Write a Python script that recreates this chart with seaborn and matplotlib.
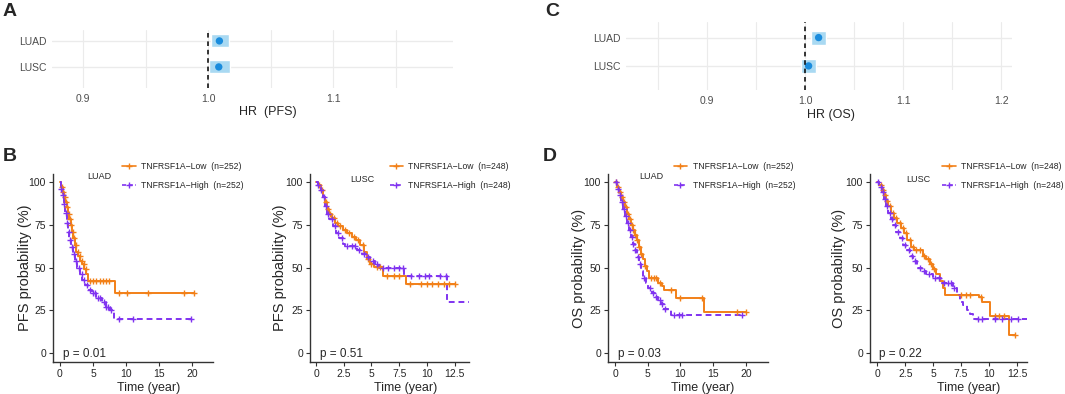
import numpy as np
import pandas as pd
import matplotlib
matplotlib.use("Agg")
import matplotlib.pyplot as plt
from matplotlib.lines import Line2D
import seaborn as sns

# ---------------- data ----------------
cancers = ["LUAD", "LUSC"]
hr_pfs = [1.009, 1.0085]
hr_pfs_lo = [1.002, 1.0005]
hr_pfs_hi = [1.017, 1.0175]
hr_os = [1.0136, 1.0034]
hr_os_lo = [1.006, 0.9956]
hr_os_hi = [1.021, 1.011]

group_labels = ["TNFRSF1A\u2212Low", "TNFRSF1A\u2212High"]

# B: LUAD PFS
b1_low_t = [0, 0.2, 0.4, 0.6, 0.8, 1.0, 1.2, 1.4, 1.6, 1.8, 2.0, 2.2, 2.5, 2.8, 3.1, 3.4, 3.7, 4.0, 4.25, 8.35]
b1_low_s = [100, 97, 94, 91, 88, 85, 81, 78, 75, 71, 67, 63, 59, 57, 54, 52, 49, 46, 42, 35]
b1_low_end = 20.3
b1_low_cens = [0.3, 0.5, 0.7, 0.9, 1.1, 1.3, 1.5, 1.7, 1.9, 2.1, 2.4, 2.7, 3.0, 3.3, 3.6, 3.9, 4.6, 5.0, 5.5, 6.0, 6.5, 7.0, 7.5, 9.0, 10.2, 13.3, 18.8, 20.3]
b1_high_t = [0, 0.2, 0.4, 0.6, 0.8, 1.0, 1.2, 1.4, 1.6, 1.9, 2.2, 2.6, 3.0, 3.4, 3.8, 4.3, 4.8, 5.5, 6.3, 7.0, 7.6, 8.2]
b1_high_s = [100, 96, 92, 87, 82, 76, 71, 66, 62, 58, 54, 50, 46, 43, 40, 37, 35, 32, 30, 27, 25, 20]
b1_high_end = 19.8
b1_high_cens = [0.2, 0.4, 0.6, 0.9, 1.1, 1.3, 1.5, 1.8, 2.1, 2.5, 2.9, 3.3, 3.7, 4.1, 4.5, 5.0, 5.3, 5.8, 6.1, 6.6, 7.0, 7.3, 7.8, 9.0, 11.0, 19.8]

# B: LUSC PFS
b2_low_t = [0, 0.2, 0.4, 0.6, 0.8, 1.0, 1.2, 1.4, 1.7, 2.0, 2.4, 2.8, 3.2, 3.6, 4.0, 4.3, 4.6, 4.9, 5.2, 6.05, 8.15]
b2_low_s = [100, 98, 95, 91, 88, 84, 81, 79, 76, 74, 72, 70, 68, 66, 63, 59, 55, 52, 50.5, 45, 40.5]
b2_low_end = 12.5
b2_low_cens = [0.3, 0.5, 0.9, 1.1, 1.3, 1.6, 1.9, 2.2, 2.6, 3.0, 3.4, 3.8, 4.2, 4.7, 5.0, 5.5, 5.8, 6.4, 7.0, 7.5, 8.5, 9.5, 10.0, 10.5, 11.0, 11.5, 12.0, 12.5]
b2_high_t = [0, 0.2, 0.4, 0.6, 0.8, 1.0, 1.2, 1.5, 1.8, 2.1, 2.4, 2.6, 3.7, 4.1, 4.5, 4.9, 5.3, 5.7, 7.9, 11.85]
b2_high_s = [100, 98, 95, 91, 86, 81, 78, 74, 70, 67, 64, 62.5, 60, 58, 56, 54, 52, 50, 45, 30]
b2_high_end = 13.8
b2_high_cens = [0.2, 0.4, 0.7, 0.9, 1.1, 1.4, 1.7, 2.0, 2.3, 2.8, 3.2, 3.5, 3.9, 4.3, 4.7, 5.1, 5.5, 6.0, 6.5, 7.0, 7.5, 7.8, 8.6, 9.3, 9.8, 10.2, 11.2, 11.7]

# D: LUAD OS
d1_low_t = [0, 0.3, 0.6, 0.9, 1.2, 1.5, 1.8, 2.1, 2.4, 2.7, 3.0, 3.3, 3.6, 3.9, 4.2, 4.5, 4.8, 5.2, 6.6, 7.1, 7.4, 9.3, 13.6]
d1_low_s = [100, 97, 94, 91, 88, 85, 81, 78, 75, 72, 69, 66, 62, 58, 55, 51, 48, 44, 41, 39, 37, 32, 24]
d1_low_end = 20.0
d1_low_cens = [0.2, 0.5, 0.8, 1.0, 1.3, 1.6, 1.9, 2.2, 2.5, 2.8, 3.1, 3.4, 3.7, 4.0, 4.6, 5.5, 6.0, 6.3, 6.9, 8.6, 9.9, 13.3, 18.6, 20.0]
d1_high_t = [0, 0.3, 0.6, 0.9, 1.2, 1.5, 1.8, 2.1, 2.4, 2.7, 3.0, 3.3, 3.6, 3.9, 4.3, 4.7, 5.1, 5.6, 6.1, 6.6, 7.0, 7.4, 8.6]
d1_high_s = [100, 96, 92, 88, 84, 80, 76, 72, 68, 64, 60, 56, 52, 48, 44, 41, 38, 35, 33, 31, 29, 26, 22.5]
d1_high_end = 19.4
d1_high_cens = [0.2, 0.4, 0.7, 1.0, 1.3, 1.6, 1.9, 2.2, 2.5, 2.8, 3.1, 3.5, 3.8, 4.4, 5.3, 5.8, 6.3, 6.8, 7.2, 7.6, 9.0, 9.8, 10.3, 19.4]

# D: LUSC OS
d2_low_t = [0, 0.2, 0.4, 0.6, 0.8, 1.0, 1.2, 1.5, 1.8, 2.1, 2.4, 2.7, 3.0, 3.3, 4.1, 4.4, 4.7, 5.0, 5.3, 5.6, 5.9, 6.1, 9.1, 9.4, 10.1, 11.8]
d2_low_s = [100, 98, 95, 92, 89, 86, 82, 79, 76, 73, 70, 66, 62, 60, 57, 55, 52, 49, 46, 42, 38, 34, 33, 30, 22, 11]
d2_low_end = 12.3
d2_low_cens = [0.3, 0.5, 0.7, 0.9, 1.1, 1.4, 1.7, 2.0, 2.3, 2.6, 2.9, 3.2, 3.5, 3.8, 4.2, 4.5, 4.8, 5.1, 7.5, 7.9, 8.3, 9.3, 10.5, 10.9, 11.3, 12.3]
d2_high_t = [0, 0.2, 0.4, 0.6, 0.8, 1.0, 1.2, 1.4, 1.7, 2.0, 2.3, 2.6, 2.9, 3.2, 3.6, 4.0, 4.4, 5.0, 5.7, 6.8, 7.1, 7.4, 7.7, 8.0, 8.3, 8.6]
d2_high_s = [100, 97, 94, 90, 86, 82, 78, 75, 71, 67, 63, 60, 57, 54, 50, 48, 46, 44, 41, 38, 34, 30, 28, 25, 23, 20]
d2_high_end = 13.4
d2_high_cens = [0.1, 0.3, 0.5, 0.7, 0.9, 1.1, 1.3, 1.6, 1.9, 2.2, 2.5, 2.8, 3.1, 3.4, 3.8, 4.2, 4.6, 5.2, 5.5, 6.0, 6.3, 6.6, 6.9, 9.0, 9.4, 10.5, 11.2, 12.0, 12.6]

n_luad = 252
n_lusc = 248
p_vals = ["p = 0.01", "p = 0.51", "p = 0.03", "p = 0.22"]

# ---------------- style ----------------
sns.set_style("white")
plt.rcParams["font.family"] = ["Liberation Sans", "DejaVu Sans"]

ORANGE = "#F28018"
PURPLE = "#8033F0"
BOX = "#A9D9F2"
DOT = "#1A8CDD"

W, H = 1065, 394
fig = plt.figure(figsize=(W / 100, H / 100), dpi=100)


def px_axes(left, top, right, bottom):
    return fig.add_axes([left / W, 1 - bottom / H, (right - left) / W, (bottom - top) / H])


def forest(ax, hr, lo, hi, xlim, ylim, xticks, minor, xlabel, xlab_x, xlab_y):
    ypos = np.arange(len(cancers))
    ax.set_xlim(*xlim)
    ax.set_ylim(*ylim)
    for v in list(xticks) + list(minor):
        ax.axvline(v, color="#EBEBEB", lw=0.8, zorder=0)
    for y in ypos:
        ax.axhline(y, color="#EBEBEB", lw=1.0, zorder=0)
    ax.barh(ypos, np.array(hi) - np.array(lo), left=lo, height=0.5, color=BOX, zorder=2)
    df = pd.DataFrame({"hr": hr, "y": ypos})
    sns.scatterplot(data=df, x="hr", y="y", ax=ax, color=DOT, s=28, edgecolor="none", zorder=3)
    ax.axvline(1.0, color="black", ls=(0, (3, 2.5)), lw=1.1, zorder=4)
    ax.set_xticks(xticks)
    ax.set_xticklabels([f"{v:.1f}" for v in xticks], fontsize=7.5, color="#4D4D4D")
    ax.set_yticks(ypos)
    ax.set_yticklabels(cancers, fontsize=7.5, color="#4D4D4D")
    ax.tick_params(length=0, pad=4)
    for s in ax.spines.values():
        s.set_visible(False)
    ax.set_xlabel(xlabel, fontsize=9)
    ax.xaxis.set_label_coords(xlab_x, xlab_y)
    ax.set_ylabel("")


axA = px_axes(52, 30, 453, 88)
forest(axA, hr_pfs, hr_pfs_lo, hr_pfs_hi, (0.875, 1.196), (1.81, -0.42),
       [0.9, 1.0, 1.1], [0.95, 1.05, 1.15], "HR  (PFS)", 0.539, -0.31)
axC = px_axes(626, 22, 1012, 90)
forest(axC, hr_os, hr_os_lo, hr_os_hi, (0.817, 1.211), (1.85, -0.55),
       [0.9, 1.0, 1.1, 1.2], [0.85, 0.95, 1.05, 1.15], "HR (OS)", 0.531, -0.28)


def step_value(t, s, c):
    idx = np.searchsorted(np.array(t), np.array(c), side="right") - 1
    return np.array(s)[idx]


def km(ax, curves, xlim, xticks, xtl, ylabel, name, n, pval, leg_x, name_x, name_y, ylab_x, xlab_x):
    for (t, s, end, cens, color, dash) in curves:
        df = pd.DataFrame({"t": list(t) + [end], "s": list(s) + [s[-1]]})
        sns.lineplot(data=df, x="t", y="s", ax=ax, color=color, lw=1.4,
                     drawstyle="steps-post", estimator=None, linestyle=dash)
        cdf = pd.DataFrame({"t": cens, "s": step_value(t, s, cens)})
        ax.scatter(cdf["t"], cdf["s"], marker="+", s=22, color=color, linewidths=1.0, zorder=3)
    ax.set_xlim(*xlim)
    ax.set_ylim(-5, 104.5)
    ax.set_xticks(xticks)
    ax.set_xticklabels(xtl, fontsize=7.5)
    ax.set_yticks([0, 25, 50, 75, 100])
    ax.set_yticklabels(["0", "25", "50", "75", "100"], fontsize=7.5)
    ax.tick_params(length=3, width=0.8, pad=2, color="#333333", bottom=True, left=True)
    for side in ["top", "right"]:
        ax.spines[side].set_visible(False)
    for side in ["left", "bottom"]:
        ax.spines[side].set_color("#333333")
        ax.spines[side].set_linewidth(1.0)
    ax.set_ylabel(ylabel, fontsize=10.5)
    ax.yaxis.set_label_coords(ylab_x, 0.5)
    ax.set_xlabel("Time (year)", fontsize=9)
    ax.xaxis.set_label_coords(xlab_x, -0.105)
    ax.text(0.06, 0.045, pval, transform=ax.transAxes, fontsize=8.5, va="center", ha="left")
    ax.text(name_x, name_y, name, transform=ax.transAxes, fontsize=6.5, ha="center", va="center")
    handles = [Line2D([], [], color=ORANGE, lw=1.2, marker="+", markersize=5),
               Line2D([], [], color=PURPLE, lw=1.2, ls=(0, (2.5, 1.5)), marker="+", markersize=5)]
    labels = [f"{group_labels[0]}  (n={n})", f"{group_labels[1]}  (n={n})"]
    ax.legend(handles, labels, loc="upper left", bbox_to_anchor=(leg_x, 1.062), frameon=False,
              fontsize=6.2, handlelength=1.6, handletextpad=0.6, labelspacing=1.15, borderaxespad=0,
              borderpad=0)


DASH = (0, (3, 2))
axB1 = px_axes(53, 174, 213, 362)
km(axB1, [(b1_low_t, b1_low_s, b1_low_end, b1_low_cens, ORANGE, "-"),
          (b1_high_t, b1_high_s, b1_high_end, b1_high_cens, PURPLE, DASH)],
   (-1.06, 23.2), [0, 5, 10, 15, 20], ["0", "5", "10", "15", "20"], "PFS probability (%)",
   "LUAD", n_luad, p_vals[0], 0.43, 0.29, 0.985, -0.13, 0.6)

axB2 = px_axes(310, 174, 469, 362)
km(axB2, [(b2_low_t, b2_low_s, b2_low_end, b2_low_cens, ORANGE, "-"),
          (b2_high_t, b2_high_s, b2_high_end, b2_high_cens, PURPLE, DASH)],
   (-0.55, 13.8), [0, 2.5, 5, 7.5, 10, 12.5], ["0", "2.5", "5", "7.5", "10", "12.5"],
   "PFS probability (%)", "LUSC", n_lusc, p_vals[1], 0.5, 0.33, 0.97, -0.145, 0.6)

axD1 = px_axes(608, 174, 768, 362)
km(axD1, [(d1_low_t, d1_low_s, d1_low_end, d1_low_cens, ORANGE, "-"),
          (d1_high_t, d1_high_s, d1_high_end, d1_high_cens, PURPLE, DASH)],
   (-1.1, 23.4), [0, 5, 10, 15, 20], ["0", "5", "10", "15", "20"], "OS probability (%)",
   "LUAD", n_luad, p_vals[2], 0.41, 0.27, 0.985, -0.136, 0.59)

axD2 = px_axes(870, 174, 1027, 362)
km(axD2, [(d2_low_t, d2_low_s, d2_low_end, d2_low_cens, ORANGE, "-"),
          (d2_high_t, d2_high_s, d2_high_end, d2_high_cens, PURPLE, DASH)],
   (-0.65, 13.4), [0, 2.5, 5, 7.5, 10, 12.5], ["0", "2.5", "5", "7.5", "10", "12.5"],
   "OS probability (%)", "LUSC", n_lusc, p_vals[3], 0.46, 0.31, 0.97, -0.152, 0.63)

for letter, x, y in [("A", 3, 12), ("B", 3, 157), ("C", 545, 12), ("D", 543, 156)]:
    fig.text(x / W, 1 - y / H, letter, fontsize=14, fontweight="bold", va="center", ha="left")

fig.savefig("out.png", dpi=100)
